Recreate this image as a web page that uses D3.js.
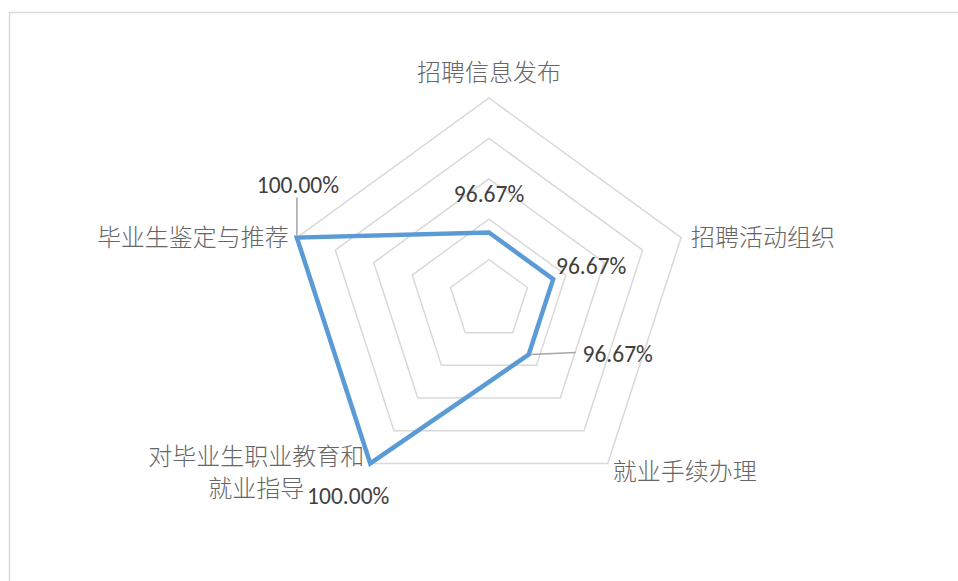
<!DOCTYPE html>
<html>
<head>
<meta charset="utf-8">
<script src="https://cdn.jsdelivr.net/npm/d3@7"></script>
<style>
  html, body { margin: 0; padding: 0; background: #fff; }
  svg { display: block; }
</style>
</head>
<body>
<svg id="chart" width="958" height="581"></svg>
<script>
// Employment service satisfaction, one value per service item
const categories = ["招聘信息发布", "招聘活动组织", "就业手续办理", "对毕业生职业教育和就业指导", "毕业生鉴定与推荐"];
const categoryLines = [["招聘信息发布"], ["招聘活动组织"], ["就业手续办理"], ["对毕业生职业教育和", "就业指导"], ["毕业生鉴定与推荐"]];
const values = [0.9667, 0.9667, 0.9667, 1.0, 1.0];
const valueLabels = ["96.67%", "96.67%", "96.67%", "100.00%", "100.00%"];
const ringTicks = [0.96, 0.97, 0.98, 0.99, 1.00];
const axisMin = 0.95, axisMax = 1.00;

const svg = d3.select("#chart");
const cx = 489, cy = 300, R = 202;

// chart area frame (extends past the right and bottom edges)
svg.append("rect")
  .attr("x", 9.5).attr("y", 12.5)
  .attr("width", 1000).attr("height", 700)
  .attr("fill", "none").attr("stroke", "#d9d9d9").attr("stroke-width", 1.5);

const r = d3.scaleLinear().domain([axisMin, axisMax]).range([0, R]);
const angle = i => (i * 2 * Math.PI) / categories.length;
const pt = (i, v) => [cx + r(v) * Math.sin(angle(i)), cy - r(v) * Math.cos(angle(i))];

// gridline pentagons
svg.append("g").selectAll("path").data(ringTicks).join("path")
  .attr("d", t => d3.line()(categories.map((c, i) => pt(i, t))) + "Z")
  .attr("fill", "none").attr("stroke", "#d9d9d9").attr("stroke-width", 1.5);

// data series
svg.append("path")
  .attr("d", d3.line()(values.map((v, i) => pt(i, v))) + "Z")
  .attr("fill", "none").attr("stroke", "#5b9bd5").attr("stroke-width", 4.5)
  .attr("stroke-linejoin", "miter");

// category labels, placed outside each outer vertex
const catFont = "'Noto Sans CJK SC', 'Noto Sans', sans-serif";
const catLayout = [
  { dx: 0, dy: -28, anchor: "middle" },
  { dx: 10, dy: -2, anchor: "start" },
  { dx: 5, dy: 6, anchor: "start" },
  { dx: -114, dy: -9, anchor: "middle" },
  { dx: -8, dy: -2, anchor: "end" }
];
const catG = svg.append("g");
categories.forEach((c, i) => {
  const [x, y] = pt(i, axisMax);
  const L = catLayout[i];
  const lh = 32;
  categoryLines[i].forEach((ln, k) => {
    catG.append("text")
      .attr("x", x + L.dx)
      .attr("y", y + L.dy + k * lh)
      .attr("dominant-baseline", "central")
      .attr("font-family", catFont).attr("font-size", 24).attr("font-weight", 300)
      .attr("fill", "#666666")
      .attr("text-anchor", L.anchor)
      .text(ln);
  });
});

// value labels with leader lines where they sit away from the point
const valFont = "Carlito, Lato, 'Liberation Sans', sans-serif";
const valLayout = [
  { dx: 0, dy: -39, leader: null },
  { dx: 38, dy: -13, leader: null },
  { dx: 89, dy: -1, leader: [[2, 0], [47, -2]] },
  { dx: -22, dy: 33, leader: null },
  { dx: 1, dy: -53, leader: [[0, -2], [0, -40]] }
];
const valG = svg.append("g");
values.forEach((v, i) => {
  const [x, y] = pt(i, v);
  const L = valLayout[i];
  if (L.leader) {
    valG.append("line")
      .attr("x1", x + L.leader[0][0]).attr("y1", y + L.leader[0][1])
      .attr("x2", x + L.leader[1][0]).attr("y2", y + L.leader[1][1])
      .attr("stroke", "#a6a6a6").attr("stroke-width", 1.5);
  }
  valG.append("text")
    .attr("x", x + L.dx).attr("y", y + L.dy)
    .attr("text-anchor", "middle").attr("dominant-baseline", "central")
    .attr("font-family", valFont).attr("font-size", 23.5).attr("fill", "#404040")
    .text(valueLabels[i]);
});
</script>
</body>
</html>
